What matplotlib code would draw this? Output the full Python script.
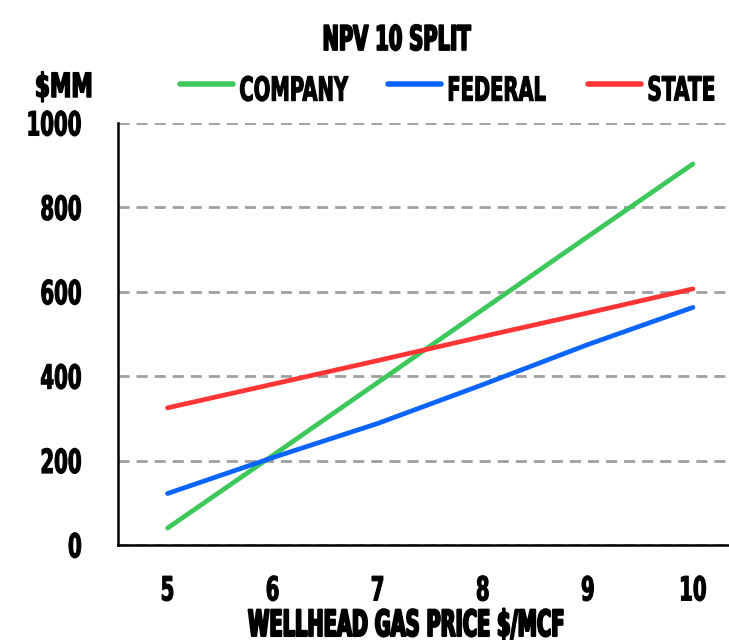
import matplotlib
matplotlib.use("Agg")
import matplotlib.pyplot as plt
from matplotlib import patheffects
from matplotlib.transforms import Affine2D

# data
prices = [5, 6, 7, 8, 9, 10]
company = [40, 212, 385, 558, 731, 903]
federal = [122, 207, 288, 380, 475, 563]
state = [325, 381, 437, 494, 550, 607]
y_ticks = [0, 200, 400, 600, 800, 1000]
series = [("COMPANY", company, "#3cc85a"),
          ("FEDERAL", federal, "#0a64ff"),
          ("STATE", state, "#ff3535")]

plt.rcParams["font.family"] = ["DejaVu Sans"]
plt.rcParams["font.weight"] = "bold"

W, H = 729, 640


class Tall(patheffects.AbstractPathEffect):
    # stretch glyphs vertically around a fixed y (display px), and thicken a bit
    # -> gives the tall condensed look of the reference font
    def __init__(self, cy, sy, stroke=0.8):
        super().__init__()
        self.cy, self.sy, self.stroke = cy, sy, stroke

    def draw_path(self, renderer, gc, tpath, affine, rgbFace=None):
        t = affine + Affine2D().translate(0, -self.cy).scale(1, self.sy).translate(0, self.cy)
        gc0 = renderer.new_gc()
        gc0.copy_properties(gc)
        if rgbFace is not None:
            gc0.set_foreground(rgbFace)
        gc0.set_linewidth(self.stroke)
        gc0.set_joinstyle("round")
        renderer.draw_path(gc0, tpath, t, rgbFace)
        gc0.restore()


def make_tall(txt, rend, sy, mode, stroke=0.8):
    bb = txt.get_window_extent(rend)
    prop = txt.get_fontproperties()
    d = rend.get_text_width_height_descent("lp", prop, ismath=False)[2]
    em = prop.get_size_in_points() * fig.dpi / 72
    cy = bb.y0 + d + {"base": 0, "mid": 0.3645, "top": 0.729}[mode] * em
    txt.set_path_effects([Tall(cy, sy, stroke)])


fig = plt.figure(figsize=(W / 100, H / 100), dpi=100)
ax = fig.add_axes([118 / W, 1 - 545 / H, 1 - 118 / W, (545 - 123) / H])

lines = []
for name, vals, col in series:
    ln, = ax.plot(prices, vals, color=col, lw=3.4, solid_capstyle="round", label=name)
    lines.append(ln)

ax.set_xlim(4.529, 10.343)
ax.set_ylim(0, 1000)
ax.set_xticks(prices)
ax.set_yticks(y_ticks)
ax.tick_params(length=0, labelsize=24)
ax.tick_params(axis="y", pad=26)
ax.tick_params(axis="x", pad=22)
for s in ["top", "right"]:
    ax.spines[s].set_visible(False)
for s in ["left", "bottom"]:
    ax.spines[s].set_linewidth(1.8)
ax.grid(axis="y", color="#a0a0a0", ls=(0, (4, 2.5)), lw=2)
ax.set_axisbelow(True)

title = fig.text(396 / W, 1 - 50 / H, "NPV 10 SPLIT", ha="center", va="baseline", fontsize=24.5)
unit = fig.text(64 / W, 1 - 97 / H, "$MM", ha="center", va="baseline", fontsize=24)
xlab = fig.text(406 / W, 1 - 636 / H, "WELLHEAD GAS PRICE $/MCF", ha="center", va="baseline",
                fontsize=26)

# one legend per entry so each sits where the reference has it
handle_x = [180, 388, 588]
legends = []
for ln, hx in zip(lines, handle_x):
    leg = ax.legend(handles=[ln], loc="center left", bbox_to_anchor=(hx / W, 1 - 86 / H),
                    bbox_transform=fig.transFigure, frameon=False, fontsize=24,
                    handlelength=1.6, handletextpad=0.18, borderaxespad=0, borderpad=0)
    leg.get_lines()[0].set_linewidth(4)
    legends.append(leg)
for leg in legends[:-1]:
    ax.add_artist(leg)

# pass 1: measure widths at full size, shrink fonts to the reference widths
fig.canvas.draw()
rend = fig.canvas.get_renderer()
leg_texts = [leg.get_texts()[0] for leg in legends]
items = [(title, 148), (unit, 58), (xlab, 317)] + list(zip(leg_texts, [109, 99, 68]))
scale = {}
for t, w in items:
    s = w / t.get_window_extent(rend).width
    scale[t] = s
    t.set_fontsize(t.get_fontsize() * s)
s_dig = 55 / ax.get_yticklabels()[-1].get_window_extent(rend).width
ax.tick_params(labelsize=24 * s_dig)

# pass 2: stretch the shrunk glyphs back up to the reference height
fig.canvas.draw()
make_tall(title, rend, 1 / scale[title], "base", stroke=1.3)
make_tall(unit, rend, 1 / scale[unit], "base", stroke=1.1)
make_tall(xlab, rend, 1 / scale[xlab], "base", stroke=1.5)
for t in leg_texts:
    make_tall(t, rend, 1 / scale[t], "mid")
for t in ax.get_yticklabels():
    make_tall(t, rend, 1 / s_dig, "mid")
for t in ax.get_xticklabels():
    make_tall(t, rend, 1 / s_dig, "top")

fig.savefig("out.png", dpi=100)
